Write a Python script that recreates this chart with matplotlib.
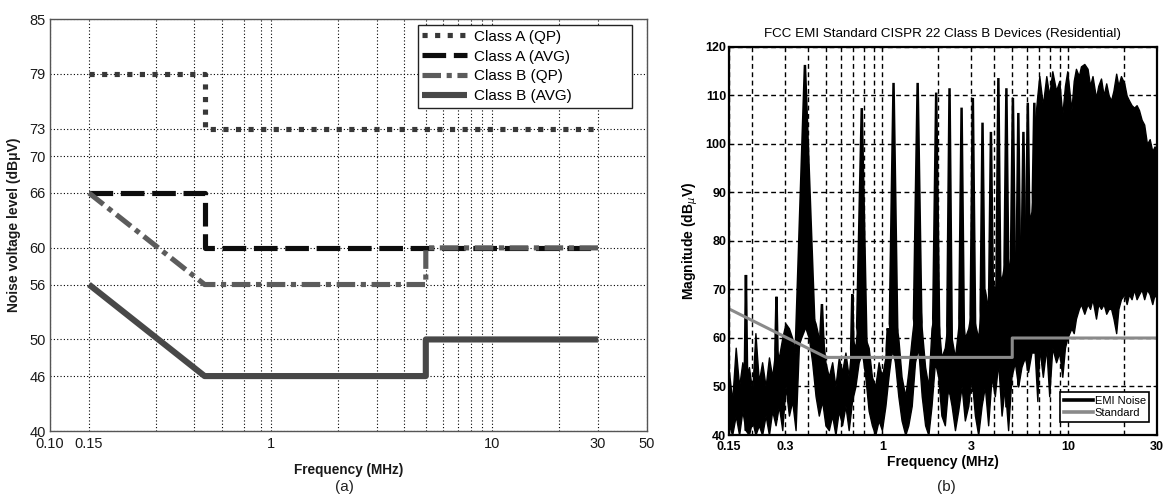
import numpy as np
import matplotlib
matplotlib.use("Agg")
import matplotlib.pyplot as plt
from matplotlib.lines import Line2D
from matplotlib.ticker import FixedLocator, NullFormatter

plt.rcParams["font.family"] = ["Liberation Sans", "DejaVu Sans"]

# ---------------- (a) CISPR 22 conducted emission limits ----------------
classA_qp_freq = [0.15, 0.5, 0.5, 30]
classA_qp_db = [79, 79, 73, 73]
classA_avg_freq = [0.15, 0.5, 0.5, 30]
classA_avg_db = [66, 66, 60, 60]
classB_qp_freq = [0.15, 0.5, 5, 5, 30]
classB_qp_db = [66, 56, 56, 60, 60]
classB_avg_freq = [0.15, 0.5, 5, 5, 30]
classB_avg_db = [56, 46, 46, 50, 50]
limit_labels = ["Class A (QP)", "Class A (AVG)", "Class B (QP)", "Class B (AVG)"]

a_xticks = [0.10, 0.15, 1, 10, 30, 50]
a_xticklabels = ["0.10", "0.15", "1", "10", "30", "50"]
a_yticks = [40, 46, 50, 56, 60, 66, 70, 73, 79, 85]

# ---------------- (b) measured EMI spectrum vs. Class B standard ----------------
# broadband noise floor below ~6.6 MHz: lower / upper envelope of the trace
floor_freq = [0.150, 0.156, 0.163, 0.170, 0.177, 0.184, 0.192, 0.200, 0.208, 0.217,
              0.226, 0.236, 0.246, 0.256, 0.267, 0.278, 0.290, 0.302, 0.315, 0.328,
              0.342, 0.356, 0.371, 0.387, 0.403, 0.420, 0.438, 0.456, 0.475, 0.495,
              0.516, 0.538, 0.560, 0.584, 0.608, 0.634, 0.660, 0.688, 0.717, 0.747,
              0.778, 0.811, 0.845, 0.880, 0.917, 0.956, 0.996, 1.04, 1.08, 1.13,
              1.17, 1.22, 1.27, 1.33, 1.38, 1.44, 1.50, 1.56, 1.63, 1.70,
              1.77, 1.84, 1.92, 2.00, 2.08, 2.17, 2.26, 2.36, 2.46, 2.56,
              2.67, 2.78, 2.90, 3.02, 3.15, 3.28, 3.42, 3.56, 3.71, 3.87,
              4.03, 4.20, 4.38, 4.56, 4.75, 4.95, 5.16, 5.38, 5.60, 5.84,
              6.08, 6.34, 6.60]
floor_lo = [42, 40, 44, 40, 45, 41, 40, 43, 40, 42,
            40, 44, 40, 45, 42, 46, 41, 50, 44, 47,
            41, 58, 62, 62, 60, 55, 48, 44, 47, 42,
            41, 44, 40, 45, 42, 46, 41, 47, 50, 55,
            57, 52, 45, 42, 40, 43, 41, 46, 52, 58,
            55, 48, 43, 40, 42, 46, 55, 58, 48, 42,
            40, 46, 55, 52, 44, 42, 50, 46, 41, 45,
            50, 43, 46, 52, 44, 40, 46, 50, 42, 52,
            48, 55, 44, 50, 41, 52, 55, 50, 54, 56,
            53, 57, 57]
floor_hi = [53, 47, 58, 50, 55, 52, 54, 49, 61, 51,
            55, 50, 56, 52, 58, 56, 60, 63, 62, 60,
            57, 64, 70, 70, 66, 65, 63, 60, 62, 55,
            52, 55, 50, 56, 53, 57, 52, 60, 58, 66,
            68, 60, 58, 52, 50, 55, 52, 56, 60, 68,
            65, 60, 52, 48, 53, 60, 66, 75, 62, 54,
            50, 62, 66, 64, 56, 58, 64, 60, 56, 62,
            68, 60, 62, 66, 63, 60, 68, 70, 66, 72,
            70, 74, 72, 76, 74, 78, 77, 80, 79, 82,
            84, 86, 95]

# dense harmonic band above ~6.6 MHz
band_freq = [6.6, 6.82, 6.99, 7.3, 7.62, 7.9, 8.21, 8.6, 8.95, 9.29,
             9.6, 9.88, 10.4, 10.7, 11.0, 11.4, 11.7, 12.2, 12.7, 13.1,
             13.5, 14.1, 14.5, 15.0, 15.5, 16.0, 16.5, 17.0, 17.5, 18.1,
             18.6, 19.2, 20.0, 20.6, 21.2, 21.9, 22.6, 23.3, 24.0, 24.8,
             25.6, 26.5, 27.4, 28.3, 29.1, 30.0]
band_hi = [104, 110, 114, 108, 114, 110, 115, 111, 113, 106,
           112, 115, 107, 113, 115.5, 114, 116, 116.5, 115.5, 112,
           114, 109.5, 112, 113.5, 110, 112.5, 110, 109, 111, 114.5,
           112, 114, 112.5, 110, 109, 108, 107.5, 108, 107, 105,
           104, 100, 101, 98.5, 99.5, 99]
band_lo = [57, 47, 58, 52, 58, 48, 58, 55, 57, 52,
           58, 60, 62, 61, 64, 66, 67, 65, 67, 66,
           68, 64, 67, 66, 67, 65, 66, 66, 64, 61,
           66, 68, 69, 67, 69, 68, 70, 68, 69, 70,
           68, 70, 69, 67, 69, 68]

# narrow harmonic peaks: centre frequency (MHz), peak level (dBuV), half-width (decades)
spike_freq = [0.185, 0.27, 0.384, 0.474, 0.69, 0.776, 1.07, 1.15, 1.55, 1.95,
              2.30, 2.67, 3.07, 3.46, 3.84, 4.21, 4.65, 5.04, 5.39, 5.74,
              6.06, 6.57]
spike_peak = [73, 68.5, 116.3, 67, 69, 107.4, 62, 112.6, 112.6, 110.6,
              111.5, 107.5, 109.5, 104.4, 102.5, 113.6, 111.5, 109.5, 106.4, 102.5,
              108.5, 108.5]
spike_halfwidth = [0.006, 0.006, 0.05, 0.008, 0.006, 0.025, 0.006, 0.02, 0.02, 0.016,
                   0.012, 0.012, 0.012, 0.01, 0.01, 0.01, 0.01, 0.01, 0.008, 0.008,
                   0.008, 0.008]

std_freq = [0.15, 0.5, 5, 5, 30]
std_db = [66, 56, 56, 60, 60]

b_xticks = [0.15, 0.3, 1, 3, 10, 30]
b_xticklabels = ["0.15", "0.3", "1", "3", "10", "30"]
b_yticks = [40, 50, 60, 70, 80, 90, 100, 110, 120]

W, H = 1165, 498
fig = plt.figure(figsize=(W / 100, H / 100), dpi=100)
fig.patch.set_facecolor("white")

# ---------------- panel (a) ----------------
axA = fig.add_axes([50 / W, 1 - 431 / H, (647 - 50) / W, (431 - 19) / H])
axA.set_xscale("log")
axA.set_xlim(0.1, 50)
axA.set_ylim(40, 85)

hA1, = axA.plot(classA_qp_freq, classA_qp_db, color="#383838", lw=3.7,
                ls=(0, (1.0, 1.45)))
hA2, = axA.plot(classA_avg_freq, classA_avg_db, color="#0d0d0d", lw=3.7,
                ls=(0, (4.6, 1.5)))
hB1, = axA.plot(classB_qp_freq, classB_qp_db, color="#5c5c5c", lw=3.7,
                ls=(0, (3.6, 1.1, 1.0, 1.1)))
hB2, = axA.plot(classB_avg_freq, classB_avg_db, color="#484848", lw=4.4,
                solid_capstyle="butt")

axA.xaxis.set_major_locator(FixedLocator(a_xticks))
axA.set_xticklabels(a_xticklabels)
axA.xaxis.set_minor_locator(FixedLocator([0.3, 0.45, 0.6, 0.75, 0.9, 2, 3, 4, 5, 6,
                                          7, 8, 9, 20]))
axA.xaxis.set_minor_formatter(NullFormatter())
axA.set_yticks(a_yticks)
axA.grid(True, which="both", color="black", ls=(0, (1, 2)), lw=0.8)
axA.set_axisbelow(True)
axA.tick_params(which="both", direction="in", labelsize=10.5, length=0, pad=3,
                colors="#1a1a1a")
axA.tick_params(axis="x", pad=4)
for sp in axA.spines.values():
    sp.set_color("#555555")
    sp.set_linewidth(1.0)
axA.set_xlabel("Frequency (MHz)", fontsize=9.8, fontweight="bold", labelpad=9,
               color="#1a1a1a")
axA.set_ylabel("Noise voltage level (dBμV)", fontsize=10, fontweight="bold",
               labelpad=6, color="#1a1a1a")

# wide legend box, entries left-aligned with spare room on the right
legA = axA.legend([hA1, hA2, hB1, hB2], limit_labels, loc="upper left",
                  bbox_to_anchor=(0.616, 0.786, 0.359, 0.199), mode="expand",
                  fontsize=11, handlelength=2.9, handletextpad=0.45,
                  labelspacing=0.38, borderpad=0.3, borderaxespad=0.0,
                  fancybox=False, framealpha=1, edgecolor="#222222")
legA.get_frame().set_linewidth(1.0)

fig.text(344 / W, 1 - 487 / H, "(a)", fontsize=11, ha="center", va="center",
         color="#222222")

# ---------------- panel (b) ----------------
axB = fig.add_axes([729 / W, 1 - 435 / H, (1157 - 729) / W, (435 - 47) / H])
axB.set_xscale("log")
axB.set_xlim(0.15, 30)
axB.set_ylim(40, 120)

axB.fill_between(floor_freq, floor_lo, floor_hi, color="black", lw=1.0,
                 edgecolor="black", zorder=3)
axB.fill_between(band_freq, band_lo, band_hi, color="black", lw=1.0,
                 edgecolor="black", zorder=3)

# each peak rises out of the noise floor on both sides of its centre
log_ff = np.log10(floor_freq)
for f, pk, hw in zip(spike_freq, spike_peak, spike_halfwidth):
    fl, fr = f * 10 ** (-hw), f * 10 ** hw
    yl = np.interp(np.log10(fl), log_ff, floor_hi)
    yr = np.interp(np.log10(fr), log_ff, floor_hi)
    yb = np.interp(np.log10(f), log_ff, floor_lo)
    axB.fill([fl, f, fr, f], [yl, pk, yr, yb], color="black", lw=1.8,
             edgecolor="black", zorder=3)
axB.plot(std_freq, std_db, color="#8a8a8a", lw=2.2, zorder=4)

axB.xaxis.set_major_locator(FixedLocator(b_xticks))
axB.set_xticklabels(b_xticklabels)
axB.xaxis.set_minor_locator(FixedLocator([0.2, 0.4, 0.5, 0.6, 0.7, 0.8, 0.9, 2, 4, 5,
                                          6, 7, 8, 9, 20]))
axB.xaxis.set_minor_formatter(NullFormatter())
axB.set_yticks(b_yticks)
axB.grid(True, which="both", color="black", ls=(0, (3.5, 2.5)), lw=1.0)
axB.set_axisbelow(True)
axB.tick_params(which="both", direction="in", top=True, right=True, length=3,
                labelsize=9, pad=2)
axB.tick_params(axis="x", pad=4)
for lab in axB.get_xticklabels() + axB.get_yticklabels():
    lab.set_fontweight("bold")
for sp in axB.spines.values():
    sp.set_color("black")
    sp.set_linewidth(1.6)
    sp.set_zorder(5)
axB.set_title("FCC EMI Standard CISPR 22 Class B Devices (Residential)",
              fontsize=9.6, pad=7)
axB.set_xlabel("Frequency (MHz)", fontsize=10, fontweight="bold", labelpad=2)
axB.set_ylabel(r"Magnitude (dB$_{\mu}$V)", fontsize=10, fontweight="bold",
               labelpad=4)

legB = axB.legend([Line2D([], [], color="black", lw=2.6),
                   Line2D([], [], color="#8a8a8a", lw=2.6)],
                  ["EMI Noise", "Standard"], loc="lower right",
                  bbox_to_anchor=(0.995, 0.02), fontsize=8, handlelength=2.6,
                  handletextpad=0.2, labelspacing=0.25, borderpad=0.3,
                  fancybox=False, framealpha=1, edgecolor="black")
legB.get_frame().set_linewidth(1.2)
legB.set_zorder(6)

fig.text(946 / W, 1 - 487 / H, "(b)", fontsize=11, ha="center", va="center",
         color="#222222")

fig.savefig("out.png", dpi=100, facecolor="white")
